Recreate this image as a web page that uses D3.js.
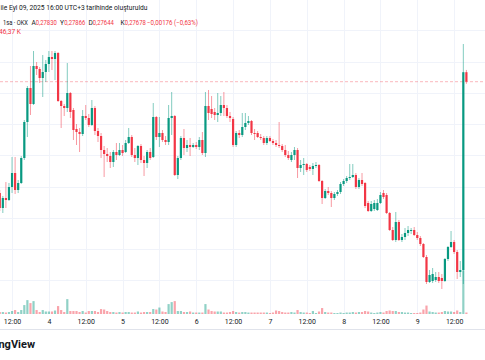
<!DOCTYPE html>
<html><head><meta charset="utf-8">
<script src="https://cdn.jsdelivr.net/npm/d3@7"></script>
<style>
html,body{margin:0;padding:0;background:#fff;overflow:hidden}
svg{display:block}
text{font-family:Roboto,"Noto Sans",sans-serif}
</style>
</head><body>
<svg id="c" width="485" height="360"></svg>
<script>
// ---- data (1h candles, OKX) from 2025-09-03 08:00 to 2025-09-09 16:00 ----
const firstCandle = Date.UTC(2025, 8, 3, 8);
const open = [
0.25897,0.25657,0.25817,0.25785,0.25993,0.26217,0.25945,0.26057,0.26457,0.27033,
0.27577,0.27321,0.27929,0.27881,0.27737,0.27833,0.27961,0.28073,0.28041,0.28137,
0.27369,0.27289,0.27257,0.27497,0.27225,0.26921,0.26873,0.26841,0.27129,0.27097,
0.26985,0.27257,0.26889,0.26809,0.26585,0.26521,0.26489,0.26393,0.26553,0.26505,
0.26585,0.26553,0.26697,0.26793,0.26505,0.26457,0.26649,0.26425,0.26377,0.26553,
0.26473,0.27113,0.26793,0.26857,0.26745,0.26713,0.27097,0.27129,0.26185,0.26457,
0.26777,0.26617,0.26665,0.26633,0.26665,0.26633,0.26745,0.26537,0.27289,0.27241,
0.27193,0.27145,0.27177,0.27305,0.27257,0.27129,0.27081,0.26665,0.26857,0.26825,
0.26953,0.27017,0.27049,0.26857,0.26857,0.26793,0.26777,0.26697,0.26777,0.26729,
0.26697,0.26665,0.26649,0.26585,0.26505,0.26425,0.26505,0.26585,0.26297,0.26345,
0.26361,0.26313,0.26281,0.26329,0.26345,0.26089,0.25817,0.25929,0.25897,0.25817,
0.25881,0.25913,0.26041,0.26089,0.26137,0.26153,0.26185,0.25993,0.26105,0.26057,
0.25737,0.25609,0.25641,0.25625,0.25737,0.25897,0.25865,0.25577,0.25305,0.25145,
0.25433,0.25145,0.25193,0.25257,0.25289,0.25305,0.25225,0.25177,0.25081,0.24873,
0.24473,0.24489,0.24505,0.24553,0.24537,0.24489,0.24841,0.25033,0.25113,0.24953,
0.24633,0.24665,0.27830];
const high = [
0.25945,0.25849,0.26073,0.26057,0.26473,0.26473,0.26105,0.26489,0.27065,0.27609,
0.27929,0.28169,0.27993,0.27913,0.28105,0.28025,0.28169,0.28169,0.28169,0.28153,
0.27385,0.27321,0.27977,0.27513,0.27257,0.27001,0.26937,0.27225,0.27305,0.27161,
0.27385,0.27289,0.26937,0.26857,0.26649,0.26617,0.26553,0.26585,0.26697,0.26697,
0.26665,0.26745,0.26937,0.26825,0.26617,0.26665,0.26681,0.26489,0.26585,0.26617,
0.27337,0.27129,0.27113,0.26905,0.26809,0.27305,0.27513,0.27145,0.26489,0.26809,
0.26921,0.26745,0.26777,0.26697,0.26713,0.26793,0.26873,0.27513,0.27545,0.27449,
0.27257,0.27497,0.27449,0.27513,0.27305,0.27193,0.27113,0.26889,0.26905,0.27177,
0.27177,0.27129,0.27065,0.26921,0.26889,0.26841,0.26809,0.26809,0.26809,0.26761,
0.26745,0.27033,0.26681,0.26665,0.26569,0.26553,0.26633,0.26617,0.26425,0.26457,
0.26377,0.26345,0.26377,0.26393,0.26361,0.26105,0.25961,0.25993,0.25929,0.25913,
0.25945,0.26073,0.26121,0.26169,0.26361,0.26361,0.26217,0.26137,0.26217,0.26073,
0.25769,0.25769,0.25785,0.25801,0.25913,0.25945,0.25897,0.25593,0.25353,0.25593,
0.25465,0.25241,0.25337,0.25369,0.25337,0.25353,0.25273,0.25209,0.25097,0.24905,
0.24665,0.24697,0.24633,0.24633,0.24601,0.24857,0.25049,0.25289,0.25145,0.24985,
0.24809,0.28281,0.27866];
const low = [
0.25609,0.25577,0.25657,0.25769,0.25897,0.25881,0.25897,0.26041,0.26425,0.26793,
0.27145,0.27305,0.27785,0.27657,0.27433,0.27673,0.27833,0.27865,0.27705,0.27353,
0.26937,0.27129,0.27193,0.27097,0.26745,0.26665,0.26553,0.26809,0.27065,0.26953,
0.26969,0.26825,0.26713,0.26457,0.26153,0.26393,0.26297,0.26313,0.26425,0.26489,
0.26489,0.26537,0.26681,0.26473,0.26393,0.26345,0.26377,0.26169,0.26297,0.26425,
0.26457,0.26745,0.26633,0.26713,0.26665,0.26665,0.26825,0.26169,0.26121,0.26425,
0.26505,0.26553,0.26489,0.26617,0.26601,0.26585,0.26505,0.26473,0.27065,0.27097,
0.27065,0.27033,0.27129,0.27129,0.27097,0.27033,0.26633,0.26633,0.26777,0.26793,
0.26905,0.26985,0.26825,0.26745,0.26777,0.26745,0.26665,0.26665,0.26713,0.26665,
0.26633,0.26617,0.26553,0.26473,0.26425,0.26393,0.26425,0.26137,0.26233,0.26185,
0.26233,0.26249,0.26185,0.26297,0.26073,0.25721,0.25801,0.25865,0.25673,0.25785,
0.25849,0.25881,0.26009,0.26057,0.26105,0.26137,0.25961,0.25961,0.26009,0.25657,
0.25593,0.25593,0.25609,0.25609,0.25721,0.25801,0.25561,0.25289,0.25129,0.25113,
0.25129,0.25113,0.25145,0.25209,0.25241,0.25209,0.25145,0.25049,0.24857,0.24441,
0.24457,0.24457,0.24473,0.24457,0.24361,0.24473,0.24809,0.25017,0.24921,0.24521,
0.24553,0.24441,0.27644];
const close = [
0.25657,0.25817,0.25785,0.25993,0.26217,0.25945,0.26057,0.26457,0.27033,0.27577,
0.27321,0.27929,0.27881,0.27737,0.27833,0.27961,0.28073,0.28041,0.28137,0.27369,
0.27289,0.27257,0.27497,0.27193,0.26905,0.26873,0.26841,0.27129,0.27097,0.26985,
0.27257,0.26889,0.26809,0.26585,0.26521,0.26489,0.26393,0.26553,0.26505,0.26585,
0.26537,0.26697,0.26793,0.26505,0.26457,0.26649,0.26425,0.26377,0.26553,0.26457,
0.27113,0.26793,0.26857,0.26745,0.26713,0.27097,0.27129,0.26185,0.26457,0.26777,
0.26617,0.26665,0.26633,0.26665,0.26633,0.26745,0.26537,0.27289,0.27177,0.27161,
0.27145,0.27177,0.27305,0.27257,0.27129,0.27097,0.26665,0.26857,0.26825,0.26953,
0.27017,0.27049,0.26857,0.26841,0.26793,0.26777,0.26697,0.26777,0.26729,0.26697,
0.26665,0.26649,0.26585,0.26505,0.26457,0.26505,0.26585,0.26297,0.26345,0.26361,
0.26265,0.26281,0.26329,0.26345,0.26089,0.25817,0.25929,0.25897,0.25817,0.25881,
0.25913,0.26041,0.26089,0.26137,0.26153,0.26185,0.25993,0.26105,0.26041,0.25689,
0.25609,0.25721,0.25737,0.25737,0.25865,0.25833,0.25577,0.25305,0.25145,0.25433,
0.25145,0.25193,0.25257,0.25305,0.25305,0.25225,0.25177,0.25081,0.24873,0.24473,
0.24585,0.24601,0.24553,0.24489,0.24489,0.24841,0.25033,0.25113,0.24953,0.24633,
0.24665,0.27830,0.27678];
// volume in thousands
const volume = [
62,62,46,62,93,124,62,124,279,434,
341,403,124,62,124,78,78,78,109,248,
124,62,465,93,93,93,62,93,46,93,
93,93,62,155,140,93,62,62,46,62,
46,62,62,46,46,78,46,62,62,62,
155,140,202,78,62,310,372,403,93,93,
62,62,78,46,46,46,46,310,140,93,
78,78,78,46,46,62,93,62,46,62,
62,46,46,46,46,46,46,46,31,46,
109,93,62,46,46,62,46,124,62,46,
46,31,93,31,78,186,62,46,46,31,
31,46,31,46,46,62,46,62,62,93,
78,46,31,46,62,46,93,109,93,93,
62,62,46,46,31,31,31,46,140,264,
78,62,46,46,62,93,78,78,62,109,
62,1364,46.37];
const tickLabels = ["12:00","4","12:00","5","12:00","6","12:00","7","12:00","8","12:00","9","12:00"];
const priceGrid = [0.29,0.285,0.28,0.275,0.27,0.265,0.26,0.255,0.25,0.245];
const lastPrice = 0.27678;
const headerLine1 = "ile Eyl 09, 2025 16:00 UTC+3 tarihinde oluşturuldu";
const headerSymbol = "1sa · OKX";
const ohlcLabels = ["A","Y","D","K"];
const ohlcValues = ["0,27830","0,27866","0,27644","0,27678"];
const changeText = "−0,00176 (−0,63%)";
const volumeText = "46,37 K";

// ---- drawing ----
const UP = "#089981", DOWN = "#F23645";
const svg = d3.select("#c");
const data = open.map((o,i)=>({t:new Date(firstCandle + i*3600e3), o, h:high[i], l:low[i], c:close[i], v:volume[i]}));

const x = d3.scaleUtc()
  .domain([new Date(Date.UTC(2025,8,3,0)), new Date(Date.UTC(2025,8,9,16))])
  .range([-24.8, 466.4]);
const y = d3.scaleLinear().domain([0.24185, 0.28985]).range([300, 0]);
const volBase = 314;
const yv = d3.scaleLinear().domain([0, 1500]).range([volBase, volBase - 48]);

// grid
const gridColor = "#f0f3fa";
const tickTimes = d3.utcHours(new Date(Date.UTC(2025,8,3,12)), new Date(Date.UTC(2025,8,9,13)), 12);
svg.append("g").selectAll("line").data(tickTimes).join("line")
  .attr("x1", d=>Math.round(x(d))+0.5).attr("x2", d=>Math.round(x(d))+0.5)
  .attr("y1", 0).attr("y2", volBase).attr("stroke", gridColor).attr("stroke-width",1);
svg.append("g").selectAll("line").data(priceGrid).join("line")
  .attr("x1", 0).attr("x2", 485)
  .attr("y1", d=>Math.round(y(d))+0.5).attr("y2", d=>Math.round(y(d))+0.5)
  .attr("stroke", gridColor).attr("stroke-width",1);

// volume
const bw = 2.2;
svg.append("g").selectAll("rect").data(data).join("rect")
  .attr("x", d=>x(d.t)-bw/2).attr("width", bw)
  .attr("y", d=>yv(d.v)).attr("height", d=>volBase - yv(d.v))
  .attr("fill", d=> d.c>=d.o ? "rgba(8,153,129,0.45)" : "rgba(242,54,69,0.45)");

// last price line
svg.append("line").attr("x1",0).attr("x2",485)
  .attr("y1", y(lastPrice)).attr("y2", y(lastPrice))
  .attr("stroke","rgba(242,54,69,0.35)").attr("stroke-dasharray","3,2").attr("stroke-width",1);

// wicks
svg.append("g").selectAll("line").data(data).join("line")
  .attr("x1", d=>x(d.t)).attr("x2", d=>x(d.t))
  .attr("y1", d=>y(d.h)).attr("y2", d=>y(d.l))
  .attr("stroke", d=> d.c>=d.o ? UP : DOWN).attr("stroke-opacity",0.5).attr("stroke-width",1);
// bodies
svg.append("g").selectAll("rect").data(data).join("rect")
  .attr("x", d=>x(d.t)-bw/2).attr("width", bw)
  .attr("y", d=>y(Math.max(d.o,d.c))).attr("height", d=>Math.max(1, Math.abs(y(d.o)-y(d.c))))
  .attr("fill", d=> d.c>=d.o ? UP : DOWN);

// time axis
const axis = d3.axisBottom(x).tickValues(tickTimes).tickFormat((d,i)=>tickLabels[i]).tickSize(0).tickPadding(0);
const ag = svg.append("g").attr("transform",`translate(0,${volBase+5})`).call(axis);
ag.select(".domain").remove();
ag.selectAll("text").attr("font-family","Roboto,'Noto Sans',sans-serif").attr("font-size","7px").attr("fill","#131722");
svg.append("line").attr("x1",0).attr("x2",485).attr("y1",329.5).attr("y2",329.5).attr("stroke","#e0e3eb");

// header
svg.append("text").attr("x",0.5).attr("y",10).attr("font-size","6.7px").attr("fill","#131722")
  .attr("textLength",147).attr("lengthAdjust","spacingAndGlyphs").text(headerLine1);
const hy = 25, fs = "6.6px";
svg.append("text").attr("x",3).attr("y",hy).attr("font-size",fs).attr("fill","#131722")
  .attr("textLength",25).attr("lengthAdjust","spacingAndGlyphs").text(headerSymbol);
const lx = [31.5, 60, 88.5, 120.5];
ohlcLabels.forEach((l,i)=>{
  svg.append("text").attr("x",lx[i]).attr("y",hy).attr("font-size",fs).attr("fill","#131722").text(l);
  svg.append("text").attr("x",lx[i]+4.3).attr("y",hy).attr("font-size",fs).attr("fill",DOWN)
    .attr("textLength",21).attr("lengthAdjust","spacingAndGlyphs").text(ohlcValues[i]);
});
svg.append("text").attr("x",147).attr("y",hy).attr("font-size",fs).attr("fill",DOWN)
  .attr("textLength",51).attr("lengthAdjust","spacingAndGlyphs").text(changeText);
svg.append("text").attr("x",-1).attr("y",34).attr("font-size","6.6px").attr("fill",DOWN).text(volumeText);

// logo text (cropped at the left edge, as in the reference)
svg.append("text").attr("x",35).attr("y",348).attr("text-anchor","end")
  .attr("font-size","11px").attr("font-weight","bold").attr("fill","#131722").text("TradingView");
</script>
</body></html>
